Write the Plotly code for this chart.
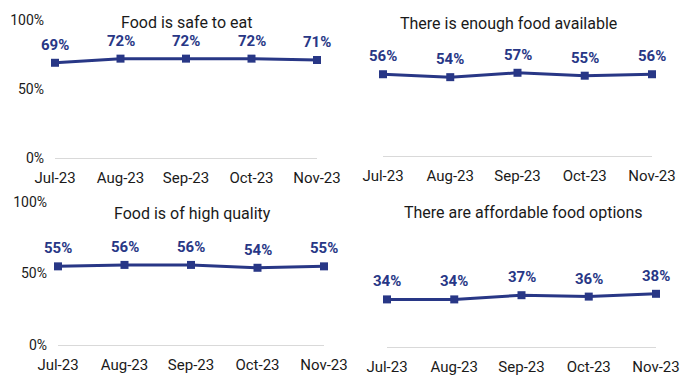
import plotly.graph_objects as go

months = ["Jul-23", "Aug-23", "Sep-23", "Oct-23", "Nov-23"]
titles = ["Food is safe to eat", "There is enough food available",
          "Food is of high quality", "There are affordable food options"]
safe = [0.69, 0.72, 0.72, 0.72, 0.71]
enough = [0.56, 0.54, 0.57, 0.55, 0.56]
quality = [0.55, 0.56, 0.56, 0.54, 0.55]
affordable = [0.34, 0.34, 0.37, 0.36, 0.38]
series = [safe, enough, quality, affordable]
y_ticks = [0, 0.5, 1.0]
y_tick_labels = ["0%", "50%", "100%"]

W, H = 694, 384
OFF = 8  # page body margin offset
NAVY = "#283786"
FONT = "Roboto"

# screen pixel layout per panel: (x_left, x_right, y_zero, y_hundred, title_x, title_y, show_y)
panels = [
    (55, 317, 158, 20, 187, 22, True),
    (383, 652, 156, 10, 508, 23, False),
    (58, 324, 345, 202, 192, 214, True),
    (387, 656, 347, 207, 523, 212, False),
]


def px(x):
    return (x - OFF) / W


def py(y):
    return (H - (y - OFF)) / H


fig = go.Figure()
layout = dict(width=W, height=H, margin=dict(l=0, r=0, t=0, b=0, pad=0),
              paper_bgcolor="white", plot_bgcolor="white", showlegend=False,
              font=dict(family=FONT, color="#1a1a1a"))
annotations = []
for i, (vals, title, p) in enumerate(zip(series, titles, panels)):
    xl, xr, y0, y100, tx, ty, showy = p
    n = "" if i == 0 else str(i + 1)
    fig.add_trace(go.Scatter(
        x=months, y=vals, mode="lines+markers", xaxis="x" + n, yaxis="y" + n,
        line=dict(color=NAVY, width=3), marker=dict(symbol="square", size=8, color=NAVY),
        cliponaxis=False, hoverinfo="skip"))
    layout["xaxis" + n] = dict(
        domain=[px(xl), px(xr)], range=[0, 4], type="category", anchor="y" + n,
        showgrid=False, showline=True, linecolor="#d9d9d9", linewidth=1,
        ticks="", ticklabelstandoff=6, tickfont=dict(size=15, color="#1a1a1a"),
        automargin=False, fixedrange=True)
    layout["yaxis" + n] = dict(
        domain=[py(y0), py(y100)], range=[0, 1], anchor="x" + n,
        showgrid=False, zeroline=False, showline=False, tickvals=y_ticks,
        ticktext=y_tick_labels, showticklabels=showy, ticks="",
        ticklabelstandoff=10, tickfont=dict(size=14, color="#1a1a1a"),
        automargin=False, fixedrange=True)
    annotations.append(dict(text=title, xref="paper", yref="paper",
                            x=px(tx), y=py(ty), showarrow=False,
                            xanchor="center", yanchor="middle",
                            font=dict(size=16, color="#1a1a1a")))
    for m, v in zip(months, vals):
        annotations.append(dict(text=f"<b>{round(v * 100)}%</b>", xref="x" + n,
                                yref="y" + n, x=m, y=v, yshift=18, showarrow=False,
                                xanchor="center", yanchor="middle",
                                font=dict(size=15, color=NAVY)))
layout["annotations"] = annotations
fig.update_layout(**layout)
fig.write_html("out.html")
